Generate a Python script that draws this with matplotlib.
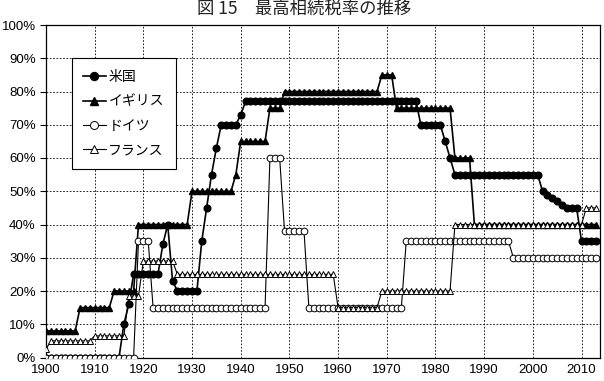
import matplotlib
matplotlib.use("Agg")
import matplotlib.pyplot as plt
from matplotlib.ticker import FuncFormatter

plt.rcParams['font.family'] = ['Liberation Sans', 'Noto Sans CJK JP', 'DejaVu Sans']

years = list(range(1900, 2014))

# 米国 (US)
us = [
    0, 0, 0, 0, 0, 0, 0, 0, 0, 0,            # 1900-1909
    0, 0, 0, 0, 0, 0, 10, 16, 25, 25,        # 1910-1919
    25, 25, 25, 25, 34, 40, 23, 20, 20, 20,  # 1920-1929
    20, 20, 35, 45, 55, 63, 70, 70, 70, 70,  # 1930-1939
    73, 77, 77, 77, 77, 77, 77, 77, 77, 77,  # 1940-1949
    77, 77, 77, 77, 77, 77, 77, 77, 77, 77,  # 1950-1959
    77, 77, 77, 77, 77, 77, 77, 77, 77, 77,  # 1960-1969
    77, 77, 77, 77, 77, 77, 77, 70, 70, 70,  # 1970-1979
    70, 70, 65, 60, 55, 55, 55, 55, 55, 55,  # 1980-1989
    55, 55, 55, 55, 55, 55, 55, 55, 55, 55,  # 1990-1999
    55, 55, 50, 49, 48, 47, 46, 45, 45, 45,  # 2000-2009
    35, 35, 35, 35,                          # 2010-2013
]

# イギリス (UK)
uk = [
    8, 8, 8, 8, 8, 8, 8, 15, 15, 15,
    15, 15, 15, 15, 20, 20, 20, 20, 20, 40,
    40, 40, 40, 40, 40, 40, 40, 40, 40, 40,
    50, 50, 50, 50, 50, 50, 50, 50, 50, 55,
    65, 65, 65, 65, 65, 65, 75, 75, 75, 80,
    80, 80, 80, 80, 80, 80, 80, 80, 80, 80,
    80, 80, 80, 80, 80, 80, 80, 80, 80, 85,
    85, 85, 75, 75, 75, 75, 75, 75, 75, 75,
    75, 75, 75, 75, 60, 60, 60, 60, 40, 40,
    40, 40, 40, 40, 40, 40, 40, 40, 40, 40,
    40, 40, 40, 40, 40, 40, 40, 40, 40, 40,
    40, 40, 40, 40,
]

# ドイツ (Germany)
de = [
    0, 0, 0, 0, 0, 0, 0, 0, 0, 0,
    0, 0, 0, 0, 0, 0, 0, 0, 0, 35,
    35, 35, 15, 15, 15, 15, 15, 15, 15, 15,
    15, 15, 15, 15, 15, 15, 15, 15, 15, 15,
    15, 15, 15, 15, 15, 15, 60, 60, 60, 38,
    38, 38, 38, 38, 15, 15, 15, 15, 15, 15,
    15, 15, 15, 15, 15, 15, 15, 15, 15, 15,
    15, 15, 15, 15, 35, 35, 35, 35, 35, 35,
    35, 35, 35, 35, 35, 35, 35, 35, 35, 35,
    35, 35, 35, 35, 35, 35, 30, 30, 30, 30,
    30, 30, 30, 30, 30, 30, 30, 30, 30, 30,
    30, 30, 30, 30,
]

# フランス (France)
fr = [
    2.5, 5, 5, 5, 5, 5, 5, 5, 5, 5,
    6.5, 6.5, 6.5, 6.5, 6.5, 6.5, 6.5, 18.5, 18.5, 18.5,
    29, 29, 29, 29, 29, 29, 29, 25, 25, 25,
    25, 25, 25, 25, 25, 25, 25, 25, 25, 25,
    25, 25, 25, 25, 25, 25, 25, 25, 25, 25,
    25, 25, 25, 25, 25, 25, 25, 25, 25, 25,
    15, 15, 15, 15, 15, 15, 15, 15, 15, 20,
    20, 20, 20, 20, 20, 20, 20, 20, 20, 20,
    20, 20, 20, 20, 40, 40, 40, 40, 40, 40,
    40, 40, 40, 40, 40, 40, 40, 40, 40, 40,
    40, 40, 40, 40, 40, 40, 40, 40, 40, 40,
    40, 45, 45, 45,
]

labels = ['米国', 'イギリス', 'ドイツ', 'フランス']
title = '図 15　最高相続税率の推移'
x_ticks = [1900, 1910, 1920, 1930, 1940, 1950, 1960, 1970, 1980, 1990, 2000, 2010]
y_ticks = [0, 10, 20, 30, 40, 50, 60, 70, 80, 90, 100]

fig = plt.figure(figsize=(6.04, 3.81), dpi=100)
ax = fig.add_axes([45.5 / 604, 1 - 357.5 / 381, (600 - 45.5) / 604, (357.5 - 25) / 381])

ax.plot(years, us, color='black', lw=1.2, marker='o', ms=4.8,
        mfc='black', mec='black', label=labels[0], zorder=3)
ax.plot(years, uk, color='black', lw=1.2, marker='^', ms=4.8,
        mfc='black', mec='black', label=labels[1], zorder=3)
ax.plot(years, de, color='black', lw=0.8, marker='o', ms=4.8,
        mfc='white', mec='black', mew=0.7, label=labels[2], zorder=4)
ax.plot(years, fr, color='black', lw=0.8, marker='^', ms=4.8,
        mfc='white', mec='black', mew=0.7, label=labels[3], zorder=5)

ax.set_xlim(1899.9, 2013.8)
ax.set_ylim(0, 100)
ax.set_xticks(x_ticks)
ax.set_yticks(y_ticks)
ax.yaxis.set_major_formatter(FuncFormatter(lambda v, p: f'{int(v)}%'))
ax.tick_params(axis='both', labelsize=9.5, colors='black', direction='out')
ax.tick_params(axis='x', length=0, pad=5)
ax.tick_params(axis='y', length=4, width=0.8, pad=3)

ax.grid(True, color='black', linestyle=(0, (2, 2)), linewidth=0.6)
ax.set_axisbelow(True)
for s in ax.spines.values():
    s.set_color('black')
    s.set_linewidth(0.9)

leg = ax.legend(loc='upper left', bbox_to_anchor=(0.047, 0.9), borderaxespad=0,
                prop={'family': ['Noto Sans CJK JP'], 'size': 10},
                fancybox=False, framealpha=1, edgecolor='black',
                handlelength=1.6, handletextpad=0.2, labelspacing=0.75,
                borderpad=0.85, markerscale=1.2)
leg.get_frame().set_linewidth(0.8)
leg.set_zorder(10)

fig.text(0.503, 1.0, title, ha='center', va='top',
         fontsize=12.5, family=['Noto Sans CJK JP'], color='#222222')

fig.savefig('out.png', dpi=100)
